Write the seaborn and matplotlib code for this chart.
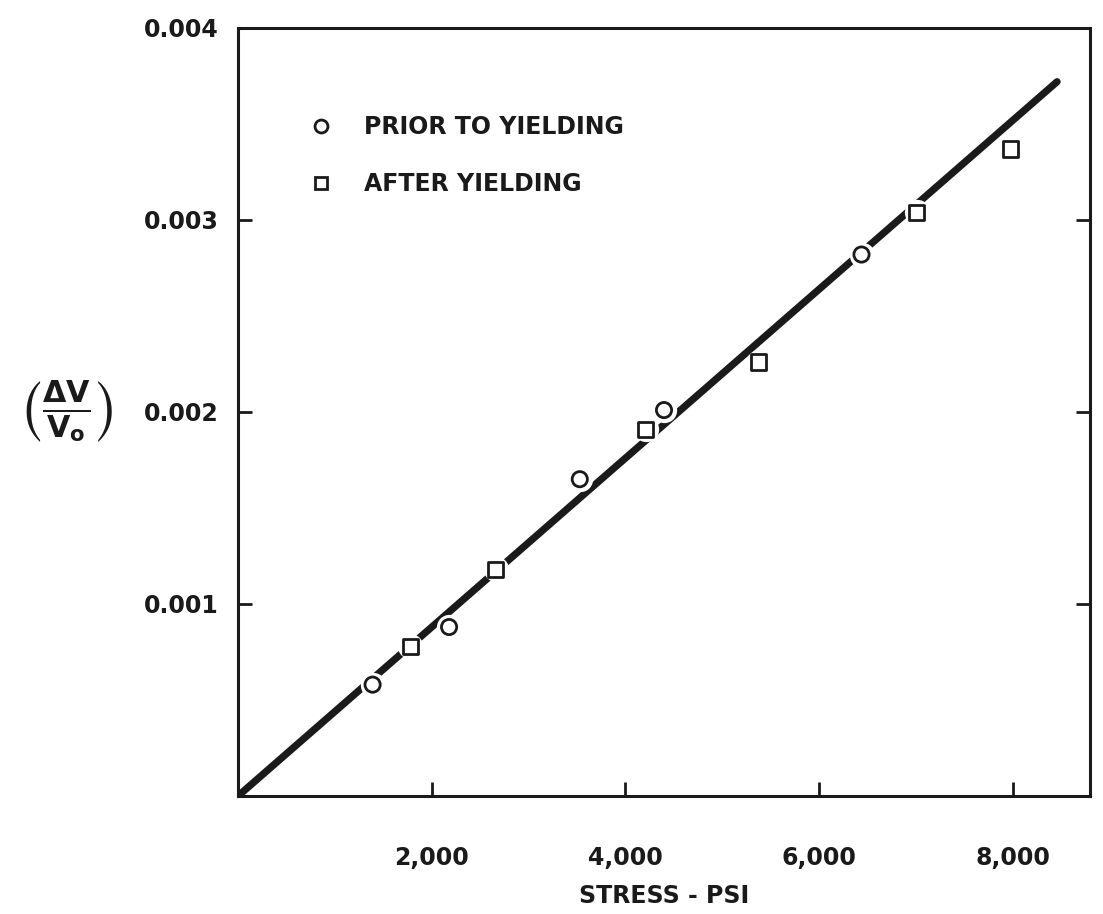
import numpy as np
import pandas as pd
import matplotlib
matplotlib.use('Agg')
import matplotlib.pyplot as plt
import seaborn as sns
from matplotlib.ticker import FuncFormatter

# data
prior_stress = [1390, 2180, 3530, 4400, 6440]
prior_dv = [0.00058, 0.00088, 0.00165, 0.00201, 0.00282]
after_stress = [1780, 2660, 4210, 5380, 7010, 7980]
after_dv = [0.00078, 0.00118, 0.00191, 0.00226, 0.00304, 0.00337]
fit_stress = [0, 8460]
fit_dv = [0, 0.00372]

x_ticks = [2000, 4000, 6000, 8000]
y_ticks = [0.001, 0.002, 0.003, 0.004]

labels = ['PRIOR TO YIELDING', 'AFTER YIELDING']

df = pd.DataFrame({
    'stress': prior_stress + after_stress,
    'dv': prior_dv + after_dv,
    'group': [labels[0]] * len(prior_stress) + [labels[1]] * len(after_stress),
})

ink = '#1a1a1a'

sns.set_theme(style='white')
plt.rcParams['font.family'] = ['Liberation Sans Narrow', 'DejaVu Sans']
plt.rcParams['font.weight'] = 'bold'
plt.rcParams['mathtext.fontset'] = 'dejavusans'
plt.rcParams['text.color'] = ink
plt.rcParams['axes.labelcolor'] = ink

fig = plt.figure(figsize=(11.03, 9.14), dpi=100)
ax = fig.add_axes([0.2158, 0.1291, 0.7724, 0.8403])

# fitted line
sns.lineplot(x=fit_stress, y=fit_dv, ax=ax, color=ink, lw=5.2,
             solid_capstyle='round', zorder=2)

# white halo so the line breaks around the points
ax.scatter(df['stress'], df['dv'], s=330, c='white',
           marker='o', linewidths=0, zorder=3)

sns.scatterplot(data=df, x='stress', y='dv', style='group',
                markers={labels[0]: 'o', labels[1]: 's'},
                style_order=labels, s=120, facecolor='white',
                edgecolor=ink, linewidth=2.0, ax=ax, zorder=4)

ax.set_xlim(0, 8800)
ax.set_ylim(0, 0.004)
ax.set_xticks(x_ticks)
ax.set_yticks(y_ticks)
ax.xaxis.set_major_formatter(FuncFormatter(lambda v, p: f'{int(v):,}'))
ax.yaxis.set_major_formatter(FuncFormatter(lambda v, p: f'{v:.3f}'))

for s in ax.spines.values():
    s.set_linewidth(2.2)
    s.set_color(ink)

ax.tick_params(axis='both', direction='in', length=10, width=2,
               colors=ink, labelsize=17)
ax.tick_params(axis='y', right=True, left=True, pad=14)
ax.tick_params(axis='x', bottom=True, pad=36)

ax.set_xlabel('STRESS - PSI', fontsize=17, fontweight='bold', labelpad=10)
ax.set_ylabel(r'$\left(\frac{\mathbf{\Delta V}}{\mathbf{V_o}}\right)$',
              fontsize=31, rotation=0, va='center')
ax.yaxis.set_label_coords(-0.2, 0.5)

leg = ax.legend(loc='upper left', bbox_to_anchor=(0.045, 0.914), frameon=False,
                fontsize=17, handletextpad=0.8, labelspacing=1.4,
                markerscale=0.85)
for t in leg.get_texts():
    t.set_fontweight('bold')

fig.savefig('out.png', dpi=100)
